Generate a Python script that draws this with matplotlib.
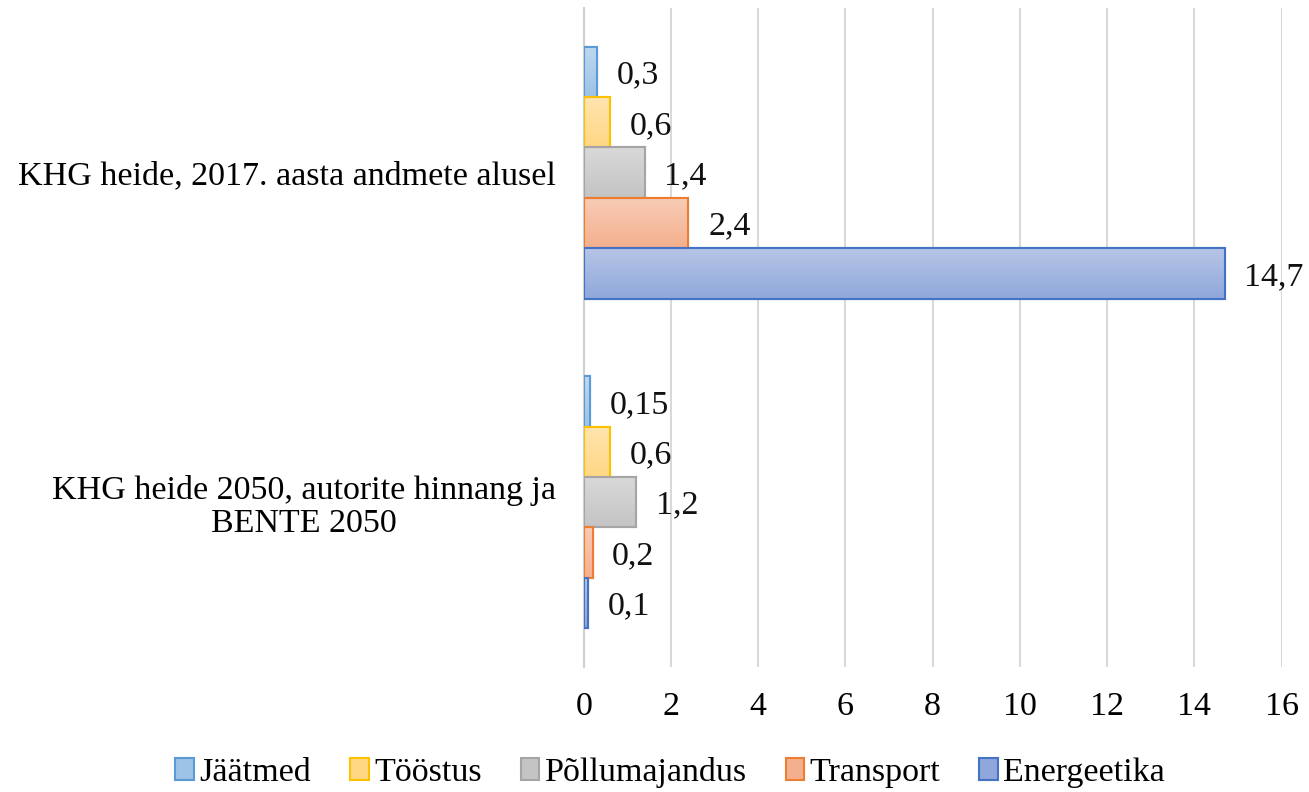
import numpy as np
import matplotlib.pyplot as plt
from matplotlib.colors import to_rgb, LinearSegmentedColormap

plt.rcParams["font.family"] = ["Liberation Serif", "DejaVu Serif"]

categories = ["KHG heide, 2017. aasta andmete alusel",
              "KHG heide 2050, autorite hinnang ja\nBENTE 2050"]
series = ["Jäätmed", "Tööstus", "Põllumajandus", "Transport", "Energeetika"]
jaatmed = [0.3, 0.15]
toostus = [0.6, 0.6]
pollumajandus = [1.4, 1.2]
transport = [2.4, 0.2]
energeetika = [14.7, 0.1]
values = [jaatmed, toostus, pollumajandus, transport, energeetika]

fills = ["#9dc3e6", "#ffd785", "#c4c4c4", "#f4b08e", "#8fa7da"]
edges = ["#5b9bd5", "#ffc000", "#a5a5a5", "#ed7d31", "#4472c4"]

fs = 24.5

fig = plt.figure(figsize=(13.09, 7.92), dpi=100)
ax = fig.add_axes([0.446, 0.158, 0.533, 0.832])

h = 0.153
y = np.arange(len(categories))
for i, (name, vals) in enumerate(zip(series, values)):
    pos = y + (i - 2) * h
    bars = ax.barh(pos, vals, height=h, color=fills[i], edgecolor=edges[i],
                   linewidth=1.5, label=name, zorder=3)
    # soft vertical gradient like the original
    base = np.array(to_rgb(fills[i]))
    light = base + (1 - base) * 0.35
    cmap = LinearSegmentedColormap.from_list("g", [light, base])
    for b in bars:
        x0, y0 = b.get_x(), b.get_y()
        w, hh = b.get_width(), b.get_height()
        im = ax.imshow(np.linspace(0, 1, 50).reshape(-1, 1), cmap=cmap,
                       extent=[x0, x0 + w, y0 + hh, y0], aspect="auto",
                       origin="upper", zorder=3.5)
        im.set_clip_path(b)
        ax.add_patch(plt.Rectangle((x0, y0), w, hh, fill=False,
                                   edgecolor=edges[i], linewidth=1.5, zorder=4))
    for p, v in zip(pos, vals):
        ax.text(v + 0.45, p + 0.01, f"{v:g}".replace(".", ","), va="center",
                ha="left", fontsize=fs, color="#111111", zorder=5)

ax.set_xlim(0, 16)
ax.set_ylim(1.5, -0.5)
ax.set_xticks(range(0, 17, 2))
ax.set_yticks(y)
ax.set_yticklabels(categories, fontsize=fs)
for lab in ax.get_yticklabels():
    lab.set_multialignment("center")
    lab.set_linespacing(1.12)
ax.tick_params(axis="x", length=0, pad=18, labelsize=fs)
ax.tick_params(axis="y", length=0, pad=20)
ax.grid(axis="x", color="#d9d9d9", linewidth=1.5, zorder=0)
for s in ["top", "right", "bottom"]:
    ax.spines[s].set_visible(False)
ax.spines["left"].set_color("#d0d0d0")
ax.spines["left"].set_linewidth(1.5)

fig.legend(loc="center", bbox_to_anchor=(0.512, 0.025), ncol=5, frameon=False,
           fontsize=fs, handlelength=0.55, handleheight=0.6, handletextpad=0.15,
           columnspacing=1.15)

fig.savefig("out.png", dpi=100)
